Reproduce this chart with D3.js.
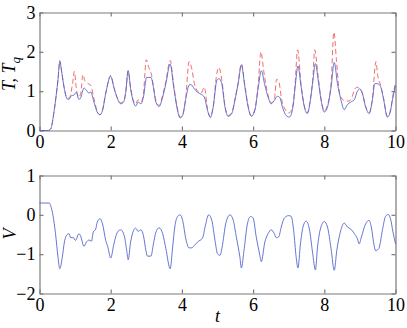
<!DOCTYPE html>
<html>
<head>
<meta charset="utf-8">
<script src="https://cdn.jsdelivr.net/npm/d3@7"></script>
<style>
  body { margin: 0; background: #fff; }
  svg { display: block; }
</style>
</head>
<body>
<svg id="fig" width="407" height="328"></svg>
<script>
// values: [t, value]
const xTicks = [0, 2, 4, 6, 8, 10];
const topTicks = [0, 1, 2, 3];
const botTicks = [-2, -1, 0, 1];

const seriesT = [[0,0],[0.25,0],[0.32,0.05],[0.4,0.43],[0.47,0.9],[0.52,1.3],[0.57,1.75],[0.63,1.45],[0.69,1.1],[0.78,0.8],
  [0.83,0.79],[0.89,0.88],[0.97,0.9],[1.03,0.97],[1.11,0.79],[1.15,0.82],[1.25,1.08],[1.32,1.02],[1.39,0.95],[1.44,0.98],
  [1.53,0.72],[1.62,0.47],[1.70,0.4],[1.77,0.51],[1.86,0.94],[2.0,1.38],[2.09,1.09],[2.19,0.81],[2.28,0.68],[2.36,0.72],
  [2.42,0.94],[2.49,1.52],[2.56,1.06],[2.64,0.72],[2.70,0.62],[2.77,0.72],[2.85,0.68],[2.92,0.85],[3.01,1.35],[3.13,1.35],
  [3.2,1.1],[3.27,0.72],[3.36,0.61],[3.46,0.85],[3.55,1.19],[3.67,1.69],[3.77,1.1],[3.86,0.59],[3.95,0.32],[4.02,0.38],
  [4.11,0.81],[4.2,1.15],[4.25,1.17],[4.35,1.06],[4.44,0.97],[4.54,0.92],[4.63,0.85],[4.72,0.51],[4.80,0.33],[4.88,0.6],
  [4.98,1.27],[5.04,1.32],[5.12,1.19],[5.21,0.6],[5.30,0.36],[5.40,0.43],[5.49,0.77],[5.58,1.19],[5.67,1.66],[5.77,1.1],
  [5.86,0.6],[5.95,0.36],[6.05,0.51],[6.14,1.06],[6.23,1.52],[6.33,1.15],[6.42,0.85],[6.51,0.68],[6.6,0.77],[6.68,0.87],
  [6.74,0.85],[6.84,0.55],[6.93,0.38],[7.02,0.34],[7.12,0.6],[7.18,1.1],[7.26,1.64],[7.35,1.1],[7.44,0.6],[7.52,0.43],
  [7.61,0.77],[7.68,1.27],[7.75,1.7],[7.83,1.27],[7.91,0.77],[8.0,0.47],[8.09,0.6],[8.19,1.1],[8.28,1.73],[8.37,1.19],
  [8.47,0.77],[8.56,0.53],[8.65,0.66],[8.74,0.72],[8.84,0.78],[8.93,1.0],[9.0,1.06],[9.07,0.94],[9.16,0.6],[9.26,0.43],
  [9.35,0.77],[9.42,1.19],[9.49,1.19],[9.58,1.12],[9.67,0.77],[9.77,0.34],[9.84,0.43],[9.93,0.85],[10.0,1.15]];

const seriesTq = [[0,0],[0.25,0],[0.32,0.05],[0.4,0.43],[0.47,0.9],[0.52,1.3],[0.57,1.78],[0.63,1.45],[0.69,1.1],[0.78,0.82],
  [0.85,0.85],[0.93,1.2],[0.98,1.5],[1.03,1.1],[1.1,0.85],[1.16,0.95],[1.22,1.42],[1.28,1.25],[1.35,1.2],[1.44,1.15],
  [1.52,0.85],[1.62,0.5],[1.70,0.4],[1.77,0.52],[1.86,0.95],[2.0,1.4],[2.09,1.1],[2.19,0.82],[2.28,0.7],[2.36,0.74],
  [2.42,0.98],[2.49,1.52],[2.56,1.08],[2.64,0.75],[2.70,0.68],[2.77,0.78],[2.85,0.72],[2.92,0.95],[3.0,1.8],[3.07,1.6],
  [3.15,1.4],[3.22,1.0],[3.29,0.7],[3.36,0.64],[3.46,0.9],[3.55,1.25],[3.67,1.78],[3.77,1.15],[3.86,0.62],[3.95,0.34],
  [4.02,0.4],[4.11,0.85],[4.2,1.75],[4.27,1.6],[4.35,1.2],[4.44,1.0],[4.54,0.95],[4.63,1.1],[4.72,0.55],[4.80,0.35],
  [4.88,0.62],[4.98,1.45],[5.04,1.6],[5.12,1.3],[5.21,0.62],[5.30,0.38],[5.40,0.45],[5.49,0.8],[5.58,1.22],[5.67,1.7],
  [5.77,1.15],[5.86,0.62],[5.95,0.38],[6.05,0.55],[6.14,1.15],[6.22,2.0],[6.30,1.5],[6.42,0.9],[6.51,0.7],[6.6,0.82],
  [6.66,1.3],[6.72,1.25],[6.8,0.8],[6.93,0.5],[7.02,0.45],[7.12,0.65],[7.18,1.2],[7.25,2.05],[7.35,1.15],[7.44,0.62],
  [7.52,0.45],[7.61,0.8],[7.68,1.35],[7.73,2.05],[7.83,1.35],[7.91,0.8],[8.0,0.5],[8.09,0.65],[8.19,1.2],[8.27,2.5],
  [8.34,1.8],[8.42,1.0],[8.5,0.8],[8.6,0.75],[8.7,0.75],[8.78,0.85],[8.85,1.05],[8.93,1.1],[9.0,1.05],[9.07,0.95],
  [9.16,0.62],[9.26,0.45],[9.35,0.8],[9.45,1.75],[9.5,1.4],[9.58,1.15],[9.67,0.8],[9.77,0.36],[9.84,0.45],[9.93,0.9],[10.0,1.2]];

const seriesV = [[0,0.3],[0.28,0.3],[0.31,0.24],[0.38,-0.02],[0.45,-0.48],[0.52,-1.08],[0.57,-1.37],[0.64,-1.08],[0.70,-0.69],[0.78,-0.5],
  [0.83,-0.48],[0.87,-0.58],[0.95,-0.58],[1.01,-0.65],[1.11,-0.48],[1.15,-0.53],[1.25,-0.8],[1.32,-0.69],[1.39,-0.64],[1.46,-0.67],
  [1.51,-0.44],[1.58,-0.36],[1.62,-0.19],[1.70,-0.1],[1.77,-0.23],[1.86,-0.65],[1.92,-0.82],[2.0,-1.1],[2.09,-0.74],[2.19,-0.44],
  [2.28,-0.38],[2.38,-0.53],[2.45,-0.91],[2.49,-1.14],[2.56,-0.69],[2.64,-0.4],[2.70,-0.34],[2.77,-0.42],[2.85,-0.38],[2.92,-0.53],
  [2.99,-0.91],[3.03,-1.05],[3.13,-1.05],[3.2,-0.74],[3.27,-0.44],[3.36,-0.33],[3.46,-0.48],[3.55,-0.86],[3.67,-1.37],[3.74,-0.82],
  [3.8,-0.31],[3.88,-0.04],[3.95,0.0],[4.02,-0.14],[4.11,-0.61],[4.2,-0.84],[4.27,-0.84],[4.35,-0.78],[4.44,-0.69],[4.58,-0.59],
  [4.66,-0.27],[4.75,0.0],[4.84,-0.14],[4.93,-0.65],[5.0,-0.99],[5.07,-1.03],[5.13,-0.82],[5.23,-0.23],[5.35,0.0],[5.44,-0.13],
  [5.53,-0.57],[5.63,-1.08],[5.67,-1.35],[5.75,-0.86],[5.84,-0.23],[5.93,-0.04],[6.0,-0.08],[6.09,-0.57],[6.19,-1.03],[6.23,-1.19],
  [6.33,-0.69],[6.42,-0.48],[6.51,-0.38],[6.59,-0.47],[6.65,-0.58],[6.72,-0.56],[6.79,-0.31],[6.88,-0.08],[7.0,-0.02],[7.07,-0.04],
  [7.14,-0.4],[7.21,-1.08],[7.26,-1.35],[7.33,-0.74],[7.4,-0.31],[7.49,-0.16],[7.58,-0.36],[7.67,-0.95],[7.75,-1.4],[7.81,-0.82],
  [7.89,-0.36],[8.0,-0.17],[8.09,-0.31],[8.19,-0.86],[8.28,-1.41],[8.35,-0.91],[8.45,-0.44],[8.56,-0.21],[8.65,-0.31],[8.74,-0.36],
  [8.84,-0.47],[8.93,-0.61],[8.98,-0.74],[9.04,-0.57],[9.16,-0.23],[9.26,-0.14],[9.32,-0.31],[9.4,-0.78],[9.44,-0.91],[9.53,-0.86],
  [9.63,-0.4],[9.72,-0.04],[9.79,0.01],[9.86,-0.1],[9.93,-0.44],[10.0,-0.74]];

const serif = "Liberation Serif";

const svg = d3.select("#fig");
const left = 39.5, right = 395.5;

const x = d3.scaleLinear().domain([0, 10]).range([left, right]);
const yTop = d3.scaleLinear().domain([0, 3]).range([130.5, 12.5]);
const yBot = d3.scaleLinear().domain([-2, 1]).range([293.5, 175.5]);

function styleAxis(sel) {
    sel.attr("font-family", serif).attr("font-size", 18);
    sel.selectAll("path, line").attr("stroke", "#7a7a7a").attr("stroke-width", 1.2);
    sel.selectAll("text").attr("fill", "#000");
}

function panel(y, ticks) {
    const g = svg.append("g");
    const y0 = y.range()[0], y1 = y.range()[1];

    g.append("g")
        .attr("transform", "translate(0," + y0 + ")")
        .call(d3.axisBottom(x).tickValues(xTicks).tickSizeInner(-4).tickSizeOuter(0).tickPadding(5).tickFormat(d3.format("d")))
        .call(styleAxis);
    g.append("g")
        .attr("transform", "translate(0," + y1 + ")")
        .call(d3.axisTop(x).tickValues(xTicks).tickSizeInner(-4).tickSizeOuter(0).tickFormat(""))
        .call(styleAxis);
    g.append("g")
        .attr("transform", "translate(" + left + ",0)")
        .call(d3.axisLeft(y).tickValues(ticks).tickSizeInner(-4).tickSizeOuter(0).tickPadding(4).tickFormat(d3.format("d")))
        .call(styleAxis);
    g.append("g")
        .attr("transform", "translate(" + right + ",0)")
        .call(d3.axisRight(y).tickValues(ticks).tickSizeInner(-4).tickSizeOuter(0).tickFormat(""))
        .call(styleAxis);
    return g;
}

const gTop = panel(yTop, topTicks);
const gBot = panel(yBot, botTicks);

const lineTop = d3.line().x(d => x(d[0])).y(d => yTop(d[1])).curve(d3.curveMonotoneX);
const lineBot = d3.line().x(d => x(d[0])).y(d => yBot(d[1])).curve(d3.curveMonotoneX);

gTop.append("path").datum(seriesTq)
    .attr("d", lineTop)
    .attr("fill", "none")
    .attr("stroke", "#f05a5a")
    .attr("stroke-width", 0.9)
    .attr("stroke-dasharray", "5,3");

gTop.append("path").datum(seriesT)
    .attr("d", lineTop)
    .attr("fill", "none")
    .attr("stroke", "#5568cc")
    .attr("stroke-width", 0.9);

gBot.append("path").datum(seriesV)
    .attr("d", lineBot)
    .attr("fill", "none")
    .attr("stroke", "#5568cc")
    .attr("stroke-width", 0.9);

// axis labels
const tl = svg.append("text")
    .attr("font-family", serif).attr("font-size", 18).attr("font-style", "italic")
    .attr("transform", "translate(15,74) rotate(-90)")
    .attr("text-anchor", "middle");
tl.append("tspan").text("T, T");
tl.append("tspan").attr("font-size", 13).attr("dy", 5).text("q");

svg.append("text")
    .attr("font-family", serif).attr("font-size", 18).attr("font-style", "italic")
    .attr("transform", "translate(16,234) rotate(-90)")
    .attr("text-anchor", "middle")
    .text("V");

svg.append("text")
    .attr("font-family", serif).attr("font-size", 18).attr("font-style", "italic")
    .attr("x", (left + right) / 2)
    .attr("y", 322)
    .attr("text-anchor", "middle")
    .text("t");
</script>
</body>
</html>
